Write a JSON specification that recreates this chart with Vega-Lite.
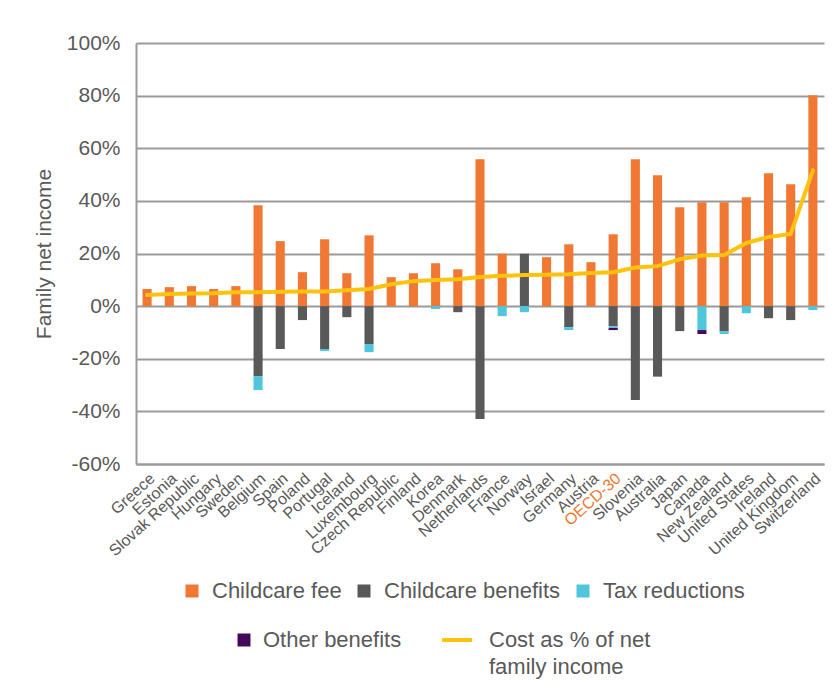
{
  "$schema": "https://vega.github.io/schema/vega-lite/v6.json",
  "width": 688,
  "height": 421,
  "padding": {"left": 33, "top": 32, "right": 5, "bottom": 5},
  "background": "white",
  "config": {
    "font": "Liberation Sans",
    "view": {"stroke": null},
    "axis": {"labelColor": "#595959", "titleColor": "#595959", "labelFont": "Liberation Sans", "titleFont": "Liberation Sans"}
  },
  "datasets": {
    "bars": [
      {"country": "Greece", "component": "Childcare fee", "value": 6.5},
      {"country": "Estonia", "component": "Childcare fee", "value": 7.2},
      {"country": "Slovak Republic", "component": "Childcare fee", "value": 7.6},
      {"country": "Hungary", "component": "Childcare fee", "value": 6.5},
      {"country": "Sweden", "component": "Childcare fee", "value": 7.6},
      {"country": "Belgium", "component": "Childcare fee", "value": 38.3},
      {"country": "Belgium", "component": "Childcare benefits", "value": -26.6},
      {"country": "Belgium", "component": "Tax reductions", "value": -5.3},
      {"country": "Spain", "component": "Childcare fee", "value": 24.7},
      {"country": "Spain", "component": "Childcare benefits", "value": -16.3},
      {"country": "Poland", "component": "Childcare fee", "value": 12.9},
      {"country": "Poland", "component": "Childcare benefits", "value": -5.3},
      {"country": "Portugal", "component": "Childcare fee", "value": 25.4},
      {"country": "Portugal", "component": "Childcare benefits", "value": -16.3},
      {"country": "Portugal", "component": "Tax reductions", "value": -0.8},
      {"country": "Iceland", "component": "Childcare fee", "value": 12.5},
      {"country": "Iceland", "component": "Childcare benefits", "value": -4.2},
      {"country": "Luxembourg", "component": "Childcare fee", "value": 26.9},
      {"country": "Luxembourg", "component": "Childcare benefits", "value": -14.4},
      {"country": "Luxembourg", "component": "Tax reductions", "value": -3.1},
      {"country": "Czech Republic", "component": "Childcare fee", "value": 11.0},
      {"country": "Finland", "component": "Childcare fee", "value": 12.5},
      {"country": "Korea", "component": "Childcare fee", "value": 16.3},
      {"country": "Korea", "component": "Tax reductions", "value": -1.1},
      {"country": "Denmark", "component": "Childcare fee", "value": 14.0},
      {"country": "Denmark", "component": "Childcare benefits", "value": -2.3},
      {"country": "Netherlands", "component": "Childcare fee", "value": 55.8},
      {"country": "Netherlands", "component": "Childcare benefits", "value": -42.9},
      {"country": "France", "component": "Childcare fee", "value": 19.9},
      {"country": "France", "component": "Tax reductions", "value": -3.8},
      {"country": "Norway", "component": "Childcare benefits", "value": 19.9},
      {"country": "Norway", "component": "Tax reductions", "value": -2.3},
      {"country": "Israel", "component": "Childcare fee", "value": 18.6},
      {"country": "Germany", "component": "Childcare fee", "value": 23.5},
      {"country": "Germany", "component": "Childcare benefits", "value": -8.0},
      {"country": "Germany", "component": "Tax reductions", "value": -1.1},
      {"country": "Austria", "component": "Childcare fee", "value": 16.7},
      {"country": "OECD-30", "component": "Childcare fee", "value": 27.3},
      {"country": "OECD-30", "component": "Childcare benefits", "value": -7.6},
      {"country": "OECD-30", "component": "Tax reductions", "value": -0.7},
      {"country": "OECD-30", "component": "Other benefits", "value": -0.8},
      {"country": "Slovenia", "component": "Childcare fee", "value": 55.8},
      {"country": "Slovenia", "component": "Childcare benefits", "value": -35.7},
      {"country": "Australia", "component": "Childcare fee", "value": 49.7},
      {"country": "Australia", "component": "Childcare benefits", "value": -26.8},
      {"country": "Japan", "component": "Childcare fee", "value": 37.6},
      {"country": "Japan", "component": "Childcare benefits", "value": -9.5},
      {"country": "Canada", "component": "Childcare fee", "value": 39.5},
      {"country": "Canada", "component": "Tax reductions", "value": -9.1},
      {"country": "Canada", "component": "Other benefits", "value": -1.5},
      {"country": "New Zealand", "component": "Childcare fee", "value": 39.5},
      {"country": "New Zealand", "component": "Childcare benefits", "value": -9.5},
      {"country": "New Zealand", "component": "Tax reductions", "value": -1.1},
      {"country": "United States", "component": "Childcare fee", "value": 41.4},
      {"country": "United States", "component": "Tax reductions", "value": -2.7},
      {"country": "Ireland", "component": "Childcare fee", "value": 50.5},
      {"country": "Ireland", "component": "Childcare benefits", "value": -4.6},
      {"country": "United Kingdom", "component": "Childcare fee", "value": 46.3},
      {"country": "United Kingdom", "component": "Childcare benefits", "value": -5.3},
      {"country": "Switzerland", "component": "Childcare fee", "value": 80.1},
      {"country": "Switzerland", "component": "Tax reductions", "value": -1.5}
    ],
    "line": [
      {"country": "Greece", "series": "Cost as % of net family income", "cost": 4.2},
      {"country": "Estonia", "series": "Cost as % of net family income", "cost": 4.6},
      {"country": "Slovak Republic", "series": "Cost as % of net family income", "cost": 4.8},
      {"country": "Hungary", "series": "Cost as % of net family income", "cost": 4.9},
      {"country": "Sweden", "series": "Cost as % of net family income", "cost": 5.3},
      {"country": "Belgium", "series": "Cost as % of net family income", "cost": 5.3},
      {"country": "Spain", "series": "Cost as % of net family income", "cost": 5.5},
      {"country": "Poland", "series": "Cost as % of net family income", "cost": 5.6},
      {"country": "Portugal", "series": "Cost as % of net family income", "cost": 5.6},
      {"country": "Iceland", "series": "Cost as % of net family income", "cost": 6.0},
      {"country": "Luxembourg", "series": "Cost as % of net family income", "cost": 6.5},
      {"country": "Czech Republic", "series": "Cost as % of net family income", "cost": 8.3},
      {"country": "Finland", "series": "Cost as % of net family income", "cost": 9.5},
      {"country": "Korea", "series": "Cost as % of net family income", "cost": 9.9},
      {"country": "Denmark", "series": "Cost as % of net family income", "cost": 10.2},
      {"country": "Netherlands", "series": "Cost as % of net family income", "cost": 11.1},
      {"country": "France", "series": "Cost as % of net family income", "cost": 11.5},
      {"country": "Norway", "series": "Cost as % of net family income", "cost": 11.8},
      {"country": "Israel", "series": "Cost as % of net family income", "cost": 11.9},
      {"country": "Germany", "series": "Cost as % of net family income", "cost": 12.1},
      {"country": "Austria", "series": "Cost as % of net family income", "cost": 12.6},
      {"country": "OECD-30", "series": "Cost as % of net family income", "cost": 12.9},
      {"country": "Slovenia", "series": "Cost as % of net family income", "cost": 14.7},
      {"country": "Australia", "series": "Cost as % of net family income", "cost": 15.2},
      {"country": "Japan", "series": "Cost as % of net family income", "cost": 17.8},
      {"country": "Canada", "series": "Cost as % of net family income", "cost": 19.2},
      {"country": "New Zealand", "series": "Cost as % of net family income", "cost": 19.4},
      {"country": "United States", "series": "Cost as % of net family income", "cost": 24.0},
      {"country": "Ireland", "series": "Cost as % of net family income", "cost": 26.3},
      {"country": "United Kingdom", "series": "Cost as % of net family income", "cost": 27.4},
      {"country": "Switzerland", "series": "Cost as % of net family income", "cost": 51.6}
    ]
  },
  "layer": [
    {
      "data": {"name": "bars"},
      "transform": [
        {"calculate": "indexof(['Childcare fee', 'Childcare benefits', 'Tax reductions', 'Other benefits'], datum.component)", "as": "stackOrder"}
      ],
      "mark": {"type": "bar", "width": {"band": 0.41}},
      "encoding": {
        "x": {
          "field": "country", "type": "nominal",
          "sort": ["Greece","Estonia","Slovak Republic","Hungary","Sweden","Belgium","Spain","Poland","Portugal","Iceland","Luxembourg","Czech Republic","Finland","Korea","Denmark","Netherlands","France","Norway","Israel","Germany","Austria","OECD-30","Slovenia","Australia","Japan","Canada","New Zealand","United States","Ireland","United Kingdom","Switzerland"],
          "scale": {"paddingInner": 0, "paddingOuter": 0},
          "axis": {
            "title": null, "labelAngle": -42, "labelFontSize": 16, "ticks": false, "labelPadding": 6,
            "labelDx": 4, "labelDy": 3,
            "domain": true, "domainColor": "#9a9a9a", "domainWidth": 2, "grid": false,
            "labelColor": {"condition": {"test": "datum.value === 'OECD-30'", "value": "#F07832"}, "value": "#595959"}
          }
        },
        "y": {
          "field": "value", "type": "quantitative", "stack": "zero",
          "scale": {"domain": [-60, 100], "nice": false},
          "axis": {
            "title": "Family net income", "titleFontSize": 21, "titleFontWeight": "normal", "titlePadding": 12,
            "values": [-60, -40, -20, 0, 20, 40, 60, 80, 100],
            "labelExpr": "datum.value + '%'", "labelFontSize": 21, "labelPadding": 16,
            "ticks": false, "tickSize": 0,
            "domain": true, "domainColor": "#9a9a9a", "domainWidth": 2,
            "grid": true, "gridColor": "#9a9a9a", "gridWidth": 2
          }
        },
        "order": {"field": "stackOrder", "type": "quantitative", "sort": "ascending"},
        "color": {
          "field": "component", "type": "nominal",
          "scale": {"domain": ["Childcare fee", "Childcare benefits", "Tax reductions", "Other benefits"], "range": ["#F07832", "#595959", "#4FC6DB", "#46095A"]},
          "legend": {
            "title": null, "orient": "none", "legendX": 45, "legendY": 537, "direction": "horizontal",
            "values": ["Childcare fee", "Childcare benefits", "Tax reductions"],
            "symbolType": "square", "symbolSize": 169, "symbolStrokeWidth": 0,
            "labelFontSize": 22, "labelColor": "#595959", "labelOffset": 9, "columnPadding": 11, "padding": 0,
            "labelLimit": 400
          }
        }
      }
    },
    {
      "data": {"name": "line"},
      "mark": {"type": "line", "strokeWidth": 4, "strokeCap": "round"},
      "encoding": {
        "x": {"field": "country", "type": "nominal", "sort": ["Greece","Estonia","Slovak Republic","Hungary","Sweden","Belgium","Spain","Poland","Portugal","Iceland","Luxembourg","Czech Republic","Finland","Korea","Denmark","Netherlands","France","Norway","Israel","Germany","Austria","OECD-30","Slovenia","Australia","Japan","Canada","New Zealand","United States","Ireland","United Kingdom","Switzerland"]},
        "y": {"field": "cost", "type": "quantitative"},
        "stroke": {
          "field": "series", "type": "nominal",
          "scale": {"domain": ["Other benefits", "Cost as % of net family income"], "range": ["#46095A", "#FFC20E"]},
          "legend": {
            "title": null, "orient": "none", "legendX": 97, "legendY": 586, "direction": "horizontal",
            "symbolSize": 900, "symbolStrokeWidth": 4, "symbolType": "stroke",
            "labelFontSize": 22, "labelColor": "#595959", "labelOffset": 8, "columnPadding": 32, "padding": 0,
            "labelLimit": 400, "labelBaseline": "top",
            "labelExpr": "datum.label == 'Cost as % of net family income' ? ['Cost as % of net', 'family income'] : [datum.label, ' ']",
            "encode": {
              "symbols": {"update": {
                "shape": {"signal": "datum.value === 'Other benefits' ? 'square' : 'stroke'"},
                "size": {"signal": "datum.value === 'Other benefits' ? 169 : 900"},
                "fill": {"signal": "datum.value === 'Other benefits' ? '#46095A' : 'transparent'"},
                "strokeWidth": {"signal": "datum.value === 'Other benefits' ? 0 : 4"}
              }},
              "labels": {"update": {
                "dy": {"value": -10},
                "dx": {"signal": "datum.value === 'Other benefits' ? 0 : 13"},
                "lineHeight": {"value": 27}
              }}
            }
          }
        }
      }
    }
  ]
}
